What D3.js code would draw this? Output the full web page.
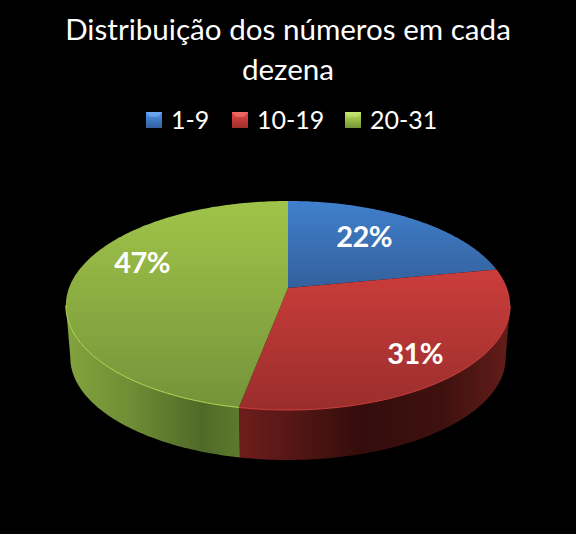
<!DOCTYPE html>
<html><head><meta charset="utf-8">
<script src="https://cdn.jsdelivr.net/npm/d3@7"></script>
<style>html,body{margin:0;padding:0;background:#000}svg{display:block}text{font-family:Lato,"Open Sans",sans-serif;fill:#fff}</style>
</head><body>
<svg id="c" width="576" height="534"></svg>
<script>
const titleLines = ["Distribuição dos números em cada", "dezena"];
const categories = ["1-9", "10-19", "20-31"];
const values = [22, 31, 47];
const topColors = [["#4080cc", "#34609c"], ["#cb3d3b", "#9a2e2c"], ["#a0c449", "#74933a"]];
const sideStops = [
  [["0", "#2a4a7a"], ["1", "#2a4a7a"]],
  [["0", "#6e1e1c"], ["0.45", "#340d0c"], ["0.75", "#3e110f"], ["1", "#641d19"]],
  [["0", "#83a33e"], ["0.35", "#708f36"], ["0.78", "#4f6a28"], ["1", "#5c7a2e"]]
];

const W = 576, H = 534;
const svg = d3.select("#c");
svg.append("rect").attr("width", W).attr("height", H).attr("fill", "#000");
const defs = svg.append("defs");

const cx = 288, cy = 288, A = 219, B = 101.6, p = -0.1675, depth = 52.4, shrink = 0.98;
const project = a => {
  const u = Math.sin(a), v = -Math.cos(a), d = 1 + p * v;
  return [cx + A * u / d, cy + B * v / d];
};
const lower = ([x, y]) => [cx + (x - cx) * shrink, cy + depth + (y - cy) * shrink];
const samples = (a0, a1) => {
  const n = Math.max(2, Math.ceil((a1 - a0) * 60));
  return d3.range(n + 1).map(i => a0 + (a1 - a0) * i / n);
};
const line = d3.line();
const arcs = d3.pie().sort(null)(values);

// Front range of the wall: between the ellipse's left and right extremes
const wallFrom = Math.PI / 2 + 0.166, wallTo = 3 * Math.PI / 2 - 0.166;

arcs.forEach((s, i) => {
  const tg = defs.append("linearGradient").attr("id", "top" + i).attr("x1", 0).attr("y1", 0).attr("x2", 0).attr("y2", 1);
  tg.append("stop").attr("offset", 0).attr("stop-color", topColors[i][0]);
  tg.append("stop").attr("offset", 1).attr("stop-color", topColors[i][1]);
  const sg = defs.append("linearGradient").attr("id", "side" + i).attr("x1", 0).attr("y1", 0).attr("x2", 1).attr("y2", 0);
  sideStops[i].forEach(([o, c]) => sg.append("stop").attr("offset", o).attr("stop-color", c));
  const lg = defs.append("linearGradient").attr("id", "leg" + i).attr("x1", 0).attr("y1", 0).attr("x2", 0).attr("y2", 1);
  lg.append("stop").attr("offset", 0).attr("stop-color", d3.color(topColors[i][0]).brighter(0.45));
  lg.append("stop").attr("offset", 0.4).attr("stop-color", topColors[i][0]);
  lg.append("stop").attr("offset", 1).attr("stop-color", topColors[i][1]);
});

// Walls
arcs.forEach((s, i) => {
  const a0 = Math.max(s.startAngle, wallFrom), a1 = Math.min(s.endAngle, wallTo);
  if (a1 <= a0) return;
  const upper = samples(a0, a1).map(project);
  const pts = upper.concat(upper.slice().reverse().map(lower));
  svg.append("path").attr("d", line(pts) + "Z").attr("fill", `url(#side${i})`);
});

// Top faces
arcs.forEach((s, i) => {
  const pts = [[cx, cy]].concat(samples(s.startAngle, s.endAngle).map(project));
  svg.append("path").attr("d", line(pts) + "Z").attr("fill", `url(#top${i})`);
});

// Lit rim along the front edge
arcs.forEach((s, i) => {
  const a0 = Math.max(s.startAngle, wallFrom), a1 = Math.min(s.endAngle, wallTo);
  if (a1 <= a0) return;
  svg.append("path").attr("d", line(samples(a0, a1).map(project))).attr("fill", "none")
    .attr("stroke", d3.color(topColors[i][0]).brighter(i === 2 ? 0.55 : 0.25)).attr("stroke-width", 1).attr("stroke-opacity", 0.85);
});

// Title
svg.selectAll("text.t").data(titleLines).join("text").attr("class", "t")
  .attr("x", cx).attr("y", (d, i) => 40 + i * 40).attr("text-anchor", "middle")
  .attr("font-size", 29.6).text(d => d);

// Legend
const legendX = d3.scaleOrdinal().domain(categories).range([146, 232, 345]);
const lg = svg.selectAll("g.l").data(categories).join("g").attr("class", "l")
  .attr("transform", d => `translate(${legendX(d)},112)`);
lg.append("rect").attr("width", 16).attr("height", 16).attr("fill", (d, i) => `url(#leg${i})`);
lg.append("path").attr("d", "M0,0H16L12,5H4Z").attr("fill", "#fff").attr("fill-opacity", 0.18);
lg.append("text").attr("x", 25).attr("y", 17).attr("font-size", 25).text(d => d);

// Data labels
const labelAt = [[364, 247], [415, 364], [142, 273]];
svg.selectAll("text.v").data(arcs).join("text").attr("class", "v")
  .attr("x", (d, i) => labelAt[i][0]).attr("y", (d, i) => labelAt[i][1])
  .attr("text-anchor", "middle").attr("font-size", 29).attr("letter-spacing", -0.6).attr("font-weight", 700)
  .text(d => d.value + "%");
</script>
</body></html>
